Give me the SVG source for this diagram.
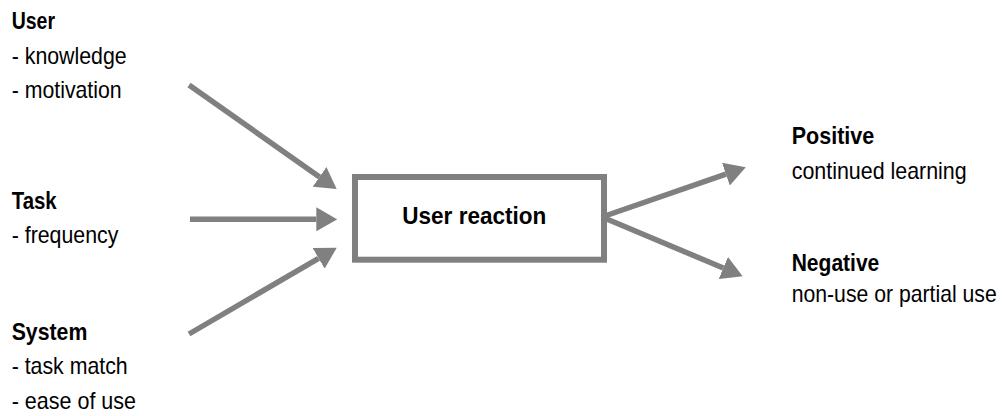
<svg xmlns="http://www.w3.org/2000/svg" width="1003" height="416" viewBox="0 0 1003 416">
<style>
text{font-family:"Liberation Sans",Arial,sans-serif;font-size:24px;fill:#000}
.b{font-weight:bold}
.c{stroke:#808080;stroke-width:5.5;fill:none}
</style>
<defs>
<marker id="ah" viewBox="0 0 21 24" refX="0" refY="12" markerWidth="21" markerHeight="24" markerUnits="userSpaceOnUse" orient="auto">
<path d="M0,0 L21,12 L0,24 z" fill="#808080"/>
</marker>
</defs>
<rect width="1003" height="416" fill="#fff"/>
<g id="connectors">
<line class="c" x1="189" y1="85" x2="319.5" y2="176.9" marker-end="url(#ah)"/>
<line class="c" x1="190" y1="219.3" x2="316.3" y2="219.3" marker-end="url(#ah)"/>
<line class="c" x1="189" y1="334" x2="318.6" y2="258.3" marker-end="url(#ah)"/>
<line class="c" x1="602" y1="217" x2="725.9" y2="174.2" marker-end="url(#ah)"/>
<line class="c" x1="602" y1="217" x2="723.3" y2="268" marker-end="url(#ah)"/>
</g>
<g id="user">
<text class="b" x="11.7" y="29.3" textLength="43.3" lengthAdjust="spacingAndGlyphs">User</text>
<text x="11.7" y="64" textLength="115" lengthAdjust="spacingAndGlyphs">- knowledge</text>
<text x="11.7" y="98.3" textLength="110" lengthAdjust="spacingAndGlyphs">- motivation</text>
</g>
<g id="task">
<text class="b" x="11.7" y="209" textLength="45" lengthAdjust="spacingAndGlyphs">Task</text>
<text x="11.7" y="243.3" textLength="106.6" lengthAdjust="spacingAndGlyphs">- frequency</text>
</g>
<g id="system">
<text class="b" x="11.7" y="340" textLength="75.6" lengthAdjust="spacingAndGlyphs">System</text>
<text x="11.7" y="374.3" textLength="116" lengthAdjust="spacingAndGlyphs">- task match</text>
<text x="11.7" y="409" textLength="124.3" lengthAdjust="spacingAndGlyphs">- ease of use</text>
</g>
<g id="reaction">
<rect x="355" y="177" width="249" height="82.7" fill="#fff" stroke="#808080" stroke-width="6"/>
<text class="b" x="402.3" y="224.3" textLength="144" lengthAdjust="spacingAndGlyphs">User reaction</text>
</g>
<g id="positive">
<text class="b" x="791.7" y="144" textLength="82.6" lengthAdjust="spacingAndGlyphs">Positive</text>
<text x="791.7" y="179" textLength="175" lengthAdjust="spacingAndGlyphs">continued learning</text>
</g>
<g id="negative">
<text class="b" x="791.7" y="271" textLength="87.6" lengthAdjust="spacingAndGlyphs">Negative</text>
<text x="791.7" y="302" textLength="205" lengthAdjust="spacingAndGlyphs">non-use or partial use</text>
</g>
</svg>
